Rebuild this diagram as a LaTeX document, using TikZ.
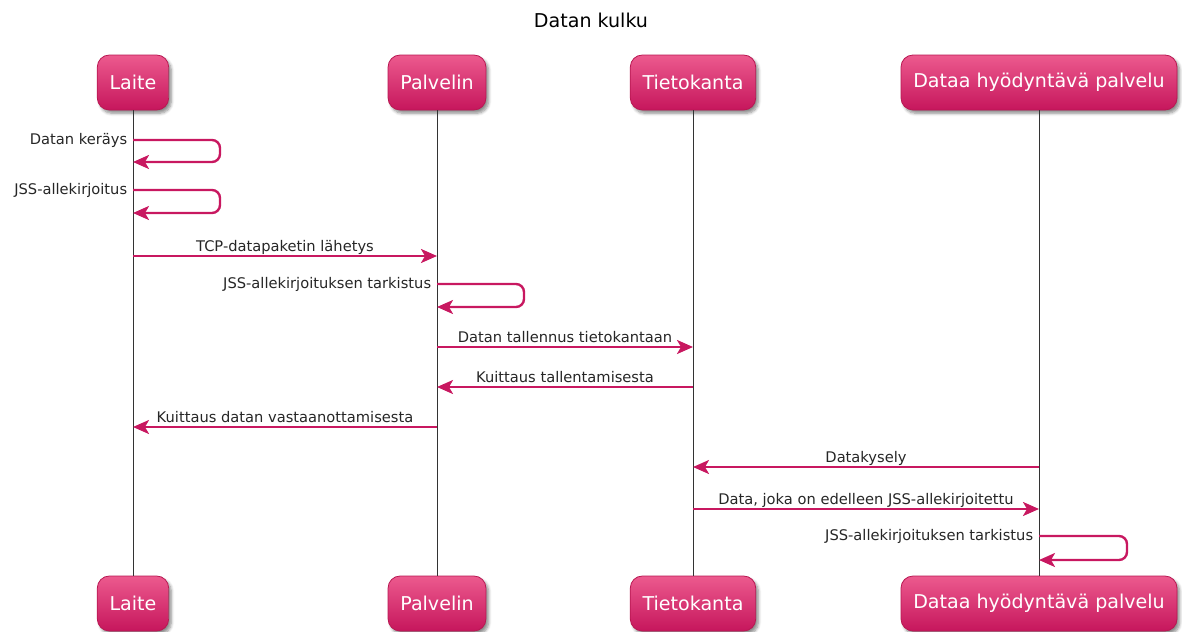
\documentclass[tikz,border=0pt]{standalone}
\usepackage{fontspec}
\setmainfont{DejaVu Sans}
\usetikzlibrary{arrows.meta,shadows.blur}

\definecolor{boxtop}{RGB}{236,90,142}
\definecolor{boxbot}{RGB}{198,22,92}
\definecolor{boxline}{RGB}{184,24,82}
\definecolor{msgred}{RGB}{200,24,96}

\tikzset{every picture/.style={line width=0.75pt}}
\tikzset{
	actor/.style={rounded corners=9pt, draw=boxline, line width=0.6pt,
		top color=boxtop, bottom color=boxbot, text=white,
		font=\fontsize{14.3}{17}\selectfont, minimum height=41.25pt, inner xsep=9.2pt,
		blur shadow={shadow xshift=2pt, shadow yshift=-2.5pt, shadow blur steps=6, shadow opacity=45}},
	lifeline/.style={draw=black!80, line width=0.75pt},
	msg/.style={draw=msgred, line width=1.8pt, -{Stealth[length=12pt,width=10.5pt,inset=3pt,fill=msgred]}},
	selfmsg/.style={msg, rounded corners=6pt},
	msgtext/.style={font=\fontsize{11}{13}\selectfont, inner sep=0pt, text=black!85}
}

\begin{document}
\begin{tikzpicture}[x=0.75pt,y=0.75pt,yscale=-1,xscale=1]
	\useasboundingbox (0,0) rectangle (1182,632);

	% Title
	\node[font=\fontsize{14.3}{17}\selectfont] (title) at (591,20) {Datan kulku};

	% Participants (top)
	\node[actor] (laiteTop) at (133,82.5) {Laite};
	\node[actor] (palvelinTop) at (437,82.5) {Palvelin};
	\node[actor] (kantaTop) at (693,82.5) {Tietokanta};
	\node[actor] (hyotyTop) at (1039,82.5) {Dataa hyödyntävä palvelu};
	% Participants (bottom)
	\node[actor] (laiteBot) at (133,603.5) {Laite};
	\node[actor] (palvelinBot) at (437,603.5) {Palvelin};
	\node[actor] (kantaBot) at (693,603.5) {Tietokanta};
	\node[actor] (hyotyBot) at (1039,603.5) {Dataa hyödyntävä palvelu};

	% Lifelines
	\draw[lifeline] (laiteTop.south) -- (laiteBot.north);
	\draw[lifeline] (palvelinTop.south) -- (palvelinBot.north);
	\draw[lifeline] (kantaTop.south) -- (kantaBot.north);
	\draw[lifeline] (hyotyTop.south) -- (hyotyBot.north);

	% Message rows
	\coordinate (r1a) at (0,140);  \coordinate (r1b) at (0,162);
	\coordinate (r2a) at (0,190);  \coordinate (r2b) at (0,213);
	\coordinate (r3) at (0,256);
	\coordinate (r4a) at (0,284);  \coordinate (r4b) at (0,307);
	\coordinate (r5) at (0,347);
	\coordinate (r6) at (0,387);
	\coordinate (r7) at (0,427);
	\coordinate (r8) at (0,467);
	\coordinate (r9) at (0,509);
	\coordinate (r10a) at (0,536); \coordinate (r10b) at (0,560);

	% Self messages
	\draw[selfmsg] (laiteTop |- r1a) node[msgtext, anchor=base east, xshift=-3.5pt, yshift=-3.5pt] (lab1) {Datan keräys}
		-- ++(87,0) |- (laiteTop |- r1b);
	\draw[selfmsg] (laiteTop |- r2a) node[msgtext, anchor=base east, xshift=-3.5pt, yshift=-3.5pt] (lab2) {JSS-allekirjoitus}
		-- ++(87,0) |- (laiteTop |- r2b);
	\draw[selfmsg] (palvelinTop |- r4a) node[msgtext, anchor=base east, xshift=-3.5pt, yshift=-3.5pt] (lab4) {JSS-allekirjoituksen tarkistus}
		-- ++(87,0) |- (palvelinTop |- r4b);
	\draw[selfmsg] (hyotyTop |- r10a) node[msgtext, anchor=base east, xshift=-3.5pt, yshift=-3.5pt] (lab10) {JSS-allekirjoituksen tarkistus}
		-- ++(88,0) |- (hyotyTop |- r10b);

	% Messages between participants
	\draw[msg] (laiteTop |- r3) -- node[msgtext, anchor=base, yshift=3.2pt] (lab3) {TCP-datapaketin lähetys} (palvelinTop |- r3);
	\draw[msg] (palvelinTop |- r5) -- node[msgtext, anchor=base, yshift=3.2pt] (lab5) {Datan tallennus tietokantaan} (kantaTop |- r5);
	\draw[msg] (kantaTop |- r6) -- node[msgtext, anchor=base, yshift=3.2pt] (lab6) {Kuittaus tallentamisesta} (palvelinTop |- r6);
	\draw[msg] (palvelinTop |- r7) -- node[msgtext, anchor=base, yshift=3.2pt] (lab7) {Kuittaus datan vastaanottamisesta} (laiteTop |- r7);
	\draw[msg] (hyotyTop |- r8) -- node[msgtext, anchor=base, yshift=3.2pt] (lab8) {Datakysely} (kantaTop |- r8);
	\draw[msg] (kantaTop |- r9) -- node[msgtext, anchor=base, yshift=3.2pt] (lab9) {Data, joka on edelleen JSS-allekirjoitettu} (hyotyTop |- r9);

\end{tikzpicture}
\end{document}
